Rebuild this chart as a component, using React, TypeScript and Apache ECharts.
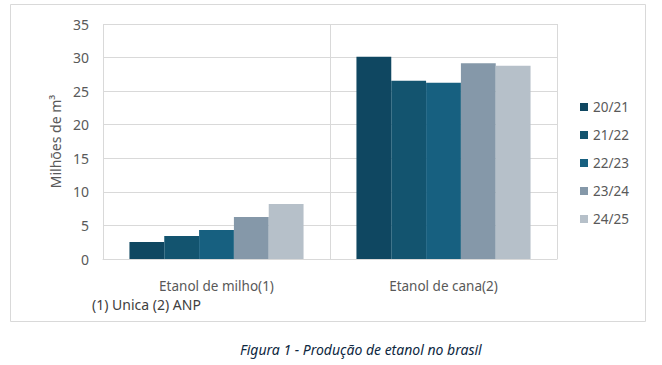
import React, { useEffect, useRef } from "react";
import * as echarts from "echarts";

const categories = ["Etanol de milho(1)", "Etanol de cana(2)"];
const seasons = ["20/21", "21/22", "22/23", "23/24", "24/25"];
const values2021 = [2.54, 30.13];
const values2122 = [3.43, 26.55];
const values2223 = [4.33, 26.25];
const values2324 = [6.27, 29.14];
const values2425 = [8.2, 28.79];
const seriesValues = [values2021, values2122, values2223, values2324, values2425];
const colors = ["#0f4761", "#13546f", "#176080", "#8598a9", "#b6c0c9"];
const yTicks = [0, 5, 10, 15, 20, 25, 30, 35];

const FONT = "'Noto Sans', sans-serif";

export default function App() {
  const ref = useRef<HTMLDivElement>(null);
  useEffect(() => {
    if (!ref.current) return;
    const chart = echarts.init(ref.current, undefined, { renderer: "svg" });
    chart.setOption({
      animation: false,
      backgroundColor: "#ffffff",
      textStyle: { fontFamily: FONT },
      grid: { left: 103, right: 105, top: 24, bottom: 106, containLabel: false },
      legend: {
        orient: "vertical",
        left: 580,
        top: 99,
        padding: 0,
        itemWidth: 8,
        itemHeight: 8,
        itemGap: 12,
        icon: "rect",
        data: seasons,
        textStyle: { fontSize: 13.5, color: "#595959", fontFamily: FONT, lineHeight: 16 },
      },
      xAxis: {
        type: "category",
        data: categories,
        axisLine: { show: true, lineStyle: { color: "#d9d9d9" } },
        axisTick: { show: false },
        splitLine: { show: true, lineStyle: { color: "#d9d9d9" } },
        axisLabel: { color: "#595959", fontSize: 13.5, margin: 20, fontFamily: FONT },
      },
      yAxis: {
        type: "value",
        min: yTicks[0],
        max: yTicks[yTicks.length - 1],
        interval: 5,
        name: "Milhões de m³",
        nameLocation: "middle",
        nameGap: 37,
        nameTextStyle: { color: "#595959", fontSize: 14, fontFamily: FONT },
        axisLine: { show: false },
        axisTick: { show: false },
        splitLine: { show: true, lineStyle: { color: "#d9d9d9" } },
        axisLabel: { color: "#595959", fontSize: 14, margin: 14, fontFamily: FONT },
      },
      series: seasons.map((s, i) => ({
        name: s,
        type: "bar",
        data: seriesValues[i],
        barGap: "0%",
        barCategoryGap: "23.3%",
        itemStyle: { color: colors[i] },
      })),
      graphic: [
        {
          type: "rect",
          shape: { x: 10.5, y: 4.5, width: 635, height: 317 },
          style: { fill: "none", stroke: "#d9d9d9", lineWidth: 1 },
          silent: true,
        },
        {
          type: "text",
          left: 92,
          top: 297,
          style: { text: "(1) Unica (2) ANP", fontSize: 14, fill: "#404040", fontFamily: FONT },
        },
        {
          type: "text",
          left: 240,
          top: 342,
          style: { text: "Figura 1 - Produção de etanol no brasil", fontSize: 14, fontStyle: "italic", fill: "#0e2841", fontFamily: FONT },
        },
      ],
    });
    return () => chart.dispose();
  }, []);
  return <div ref={ref} style={{ position: "fixed", left: 0, top: 0, width: 662, height: 365 }} />;
}
